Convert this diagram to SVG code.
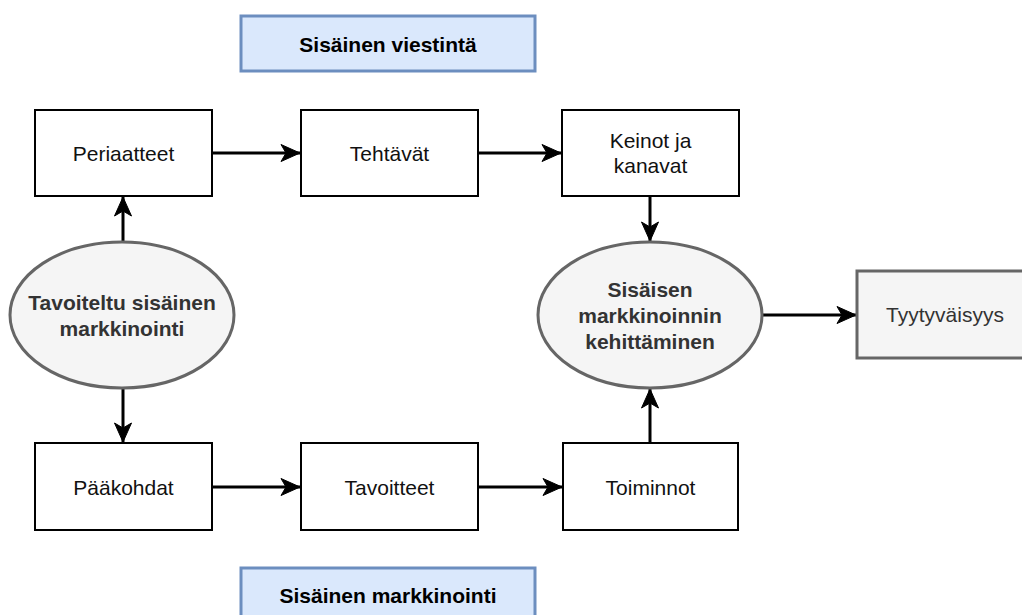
<svg xmlns="http://www.w3.org/2000/svg" width="1022" height="615" viewBox="0 0 1022 615">
<defs>
<marker id="arr" markerUnits="userSpaceOnUse" markerWidth="22" markerHeight="20" refX="20" refY="10" orient="auto">
<path d="M1,1.5 L20,10 L1,18.5 L6,10 Z" fill="#000" stroke="#000" stroke-width="1"/>
</marker>
<style>
.box{fill:#fff;stroke:#000;stroke-width:2}
.gbox{fill:#f5f5f5;stroke:#666;stroke-width:3}
.lbl{fill:#dae8fc;stroke:#6c8ebf;stroke-width:3}
.ell{fill:#f5f5f5;stroke:#666;stroke-width:3}
.t{font-family:"Liberation Sans",Arial,sans-serif;font-size:21px;fill:#111;text-anchor:middle}
.tb{font-family:"Liberation Sans",Arial,sans-serif;font-size:21px;font-weight:bold;fill:#333;text-anchor:middle}
.tl{font-family:"Liberation Sans",Arial,sans-serif;font-size:21px;font-weight:bold;fill:#000;text-anchor:middle}
.t2{fill:#333}
.c{fill:none;stroke:#000;stroke-width:3;marker-end:url(#arr)}
</style>
</defs>
<rect width="1022" height="615" fill="#fff"/>
<g id="connectors">
<line class="c" x1="212" y1="153" x2="300" y2="153"/>
<line class="c" x1="478" y1="153" x2="561" y2="153"/>
<line class="c" x1="650" y1="196" x2="650" y2="241"/>
<line class="c" x1="123" y1="242" x2="123" y2="197"/>
<line class="c" x1="123" y1="388" x2="123" y2="442"/>
<line class="c" x1="212" y1="487" x2="300" y2="487"/>
<line class="c" x1="478" y1="487" x2="562" y2="487"/>
<line class="c" x1="650" y1="443" x2="650" y2="389"/>
<line class="c" x1="762" y1="315" x2="856" y2="315"/>
</g>
<g id="label-viestinta">
<rect class="lbl" x="241" y="16" width="294" height="55"/>
<text class="tl" x="388" y="52">Sisäinen viestintä</text>
</g>
<g id="periaatteet">
<rect class="box" x="35" y="110" width="177" height="86"/>
<text class="t" x="123.5" y="161">Periaatteet</text>
</g>
<g id="tehtavat">
<rect class="box" x="301" y="110" width="177" height="86"/>
<text class="t" x="389.5" y="161">Tehtävät</text>
</g>
<g id="keinot">
<rect class="box" x="562" y="110" width="177" height="86"/>
<text class="t" x="650.5" y="148">Keinot ja</text>
<text class="t" x="650.5" y="173">kanavat</text>
</g>
<g id="tavoiteltu">
<ellipse class="ell" cx="122" cy="315" rx="112" ry="73"/>
<text class="tb" x="122" y="310">Tavoiteltu sisäinen</text>
<text class="tb" x="122" y="336">markkinointi</text>
</g>
<g id="kehittaminen">
<ellipse class="ell" cx="650" cy="315" rx="112" ry="73"/>
<text class="tb" x="650" y="297">Sisäisen</text>
<text class="tb" x="650" y="323">markkinoinnin</text>
<text class="tb" x="650" y="349">kehittäminen</text>
</g>
<g id="tyytyvaisyys">
<rect class="gbox" x="857" y="271" width="177" height="87"/>
<text class="t t2" x="945" y="322">Tyytyväisyys</text>
</g>
<g id="paakohdat">
<rect class="box" x="35" y="443" width="177" height="87"/>
<text class="t" x="123.5" y="495">Pääkohdat</text>
</g>
<g id="tavoitteet">
<rect class="box" x="301" y="443" width="177" height="87"/>
<text class="t" x="389.5" y="495">Tavoitteet</text>
</g>
<g id="toiminnot">
<rect class="box" x="563" y="443" width="175" height="87"/>
<text class="t" x="650.5" y="495">Toiminnot</text>
</g>
<g id="label-markkinointi">
<rect class="lbl" x="241" y="568" width="294" height="55"/>
<text class="tl" x="388" y="603">Sisäinen markkinointi</text>
</g>
</svg>
